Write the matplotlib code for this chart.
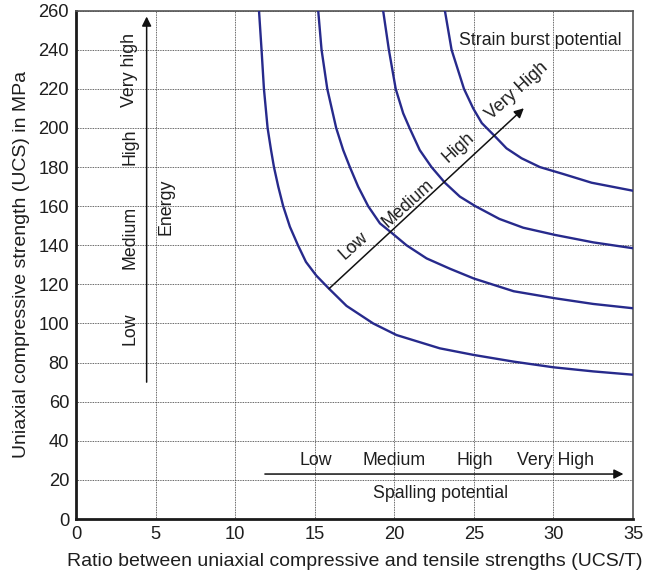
import numpy as np
import matplotlib
matplotlib.use('Agg')
import matplotlib.pyplot as plt

plt.rcParams['font.family'] = ['Liberation Sans', 'DejaVu Sans']

# curves of equal strain burst potential
curve1_x = [11.5, 11.66, 11.81, 12.04, 12.25, 12.44, 12.71, 13.02, 13.44, 13.95, 14.45, 15.1,
            15.9, 17.0, 18.68, 20.14, 22.86, 25.0, 27.5, 30.0, 32.5, 35.0]
curve1_y = [260, 240, 220, 200, 189, 180, 170, 160, 149.5, 140, 131.5, 124.5,
            117.8, 109, 100, 94.1, 87.3, 83.9, 80.5, 77.6, 75.5, 73.8]
curve2_x = [15.22, 15.43, 15.79, 16.35, 16.79, 17.21, 17.73, 18.36, 19.1, 19.83, 20.77, 22.03,
            23.5, 25.0, 27.5, 30.1, 32.5, 35.0]
curve2_y = [260, 240, 220, 200, 188.7, 180, 170, 160, 151.2, 146.4, 140, 133.3,
            128, 123, 116.5, 112.9, 110, 107.8]
curve3_x = [19.3, 19.66, 20.09, 20.56, 20.96, 21.6, 22.34, 23.18, 24.12, 25.1, 26.6, 28.1,
            30.1, 32.5, 35.0]
curve3_y = [260, 240, 220, 207.5, 200, 188.7, 180, 172, 164.9, 160, 153.5, 149,
            145.3, 141.5, 138.5]
curve4_x = [23.18, 23.6, 24.38, 24.96, 25.5, 26.32, 27.05, 28.0, 29.15, 30.6, 32.4, 35.0]
curve4_y = [260, 240, 220, 210, 202.5, 195.8, 189.6, 184.5, 180, 176.5, 172, 167.9]

curves_x = [curve1_x, curve2_x, curve3_x, curve4_x]
curves_y = [curve1_y, curve2_y, curve3_y, curve4_y]

x_ticks = list(range(0, 36, 5))
y_ticks = list(range(0, 261, 20))

# arrows: (start, end)
energy_arrow = ((4.44, 70), (4.44, 257))
burst_arrow = ((15.9, 117.8), (28.14, 210.1))
spall_arrow = ((11.87, 23), (34.4, 23))

energy_labels = ['Low', 'Medium', 'High', 'Very high']
energy_label_y = [97.6, 143.9, 190.6, 229.7]
burst_labels = ['Low', 'Medium', 'High', 'Very High']
burst_label_xy = [(17.46, 140), (20.85, 161.5), (24.0, 190), (27.7, 219)]
spall_labels = ['Low', 'Medium', 'High', 'Very High']
spall_label_x = [15.1, 20.0, 25.06, 30.1]

line_color = '#272a8c'
text_color = '#1e1e1e'
fs = 12.8

fig = plt.figure(figsize=(6.45, 5.77), dpi=100)
ax = fig.add_axes([0.1178, 0.1005, 0.8636, 0.881])

for cx, cy in zip(curves_x, curves_y):
    ax.plot(cx, cy, color=line_color, lw=1.7, solid_capstyle='round',
            solid_joinstyle='round', zorder=3)

ax.set_xlim(0, 35)
ax.set_ylim(0, 260)
ax.set_xticks(x_ticks)
ax.set_yticks(y_ticks)
ax.grid(True, color='#333333', linestyle=(0, (1, 1)), linewidth=0.6)
ax.tick_params(length=0, labelsize=13.2, labelcolor=text_color, pad=5)

for side in ['left', 'bottom']:
    ax.spines[side].set_linewidth(2.0)
    ax.spines[side].set_color('#1a1a1a')
for side in ['top', 'right']:
    ax.spines[side].set_linewidth(1.2)
    ax.spines[side].set_color('#555555')

ax.set_xlabel('Ratio between uniaxial compressive and tensile strengths (UCS/T)',
              fontsize=14, color=text_color, labelpad=7)
ax.set_ylabel('Uniaxial compressive strength (UCS) in MPa',
              fontsize=14, color=text_color, labelpad=6)

arrow_props = dict(arrowstyle='-|>', color='#111111', lw=1.1, mutation_scale=14,
                   shrinkA=0, shrinkB=0)
for start, end in [energy_arrow, burst_arrow, spall_arrow]:
    ax.annotate('', xy=end, xytext=start, arrowprops=arrow_props, zorder=4)

for lab, yy in zip(energy_labels, energy_label_y):
    ax.text(3.39, yy, lab, rotation=90, ha='center', va='center', fontsize=fs, color=text_color)
ax.text(5.63, 159.8, 'Energy', rotation=90, ha='center', va='center', fontsize=fs, color=text_color)

for lab, (xx, yy) in zip(burst_labels, burst_label_xy):
    ax.text(xx, yy, lab, rotation=42, ha='center', va='center', fontsize=fs, color=text_color,
            rotation_mode='anchor')

for lab, xx in zip(spall_labels, spall_label_x):
    ax.text(xx, 30, lab, ha='center', va='center', fontsize=fs, color=text_color)
ax.text(22.9, 13.1, 'Spalling potential', ha='center', va='center', fontsize=fs, color=text_color)
ax.text(29.2, 244.5, 'Strain burst potential', ha='center', va='center', fontsize=fs, color=text_color)

plt.savefig('out.png', dpi=100)
